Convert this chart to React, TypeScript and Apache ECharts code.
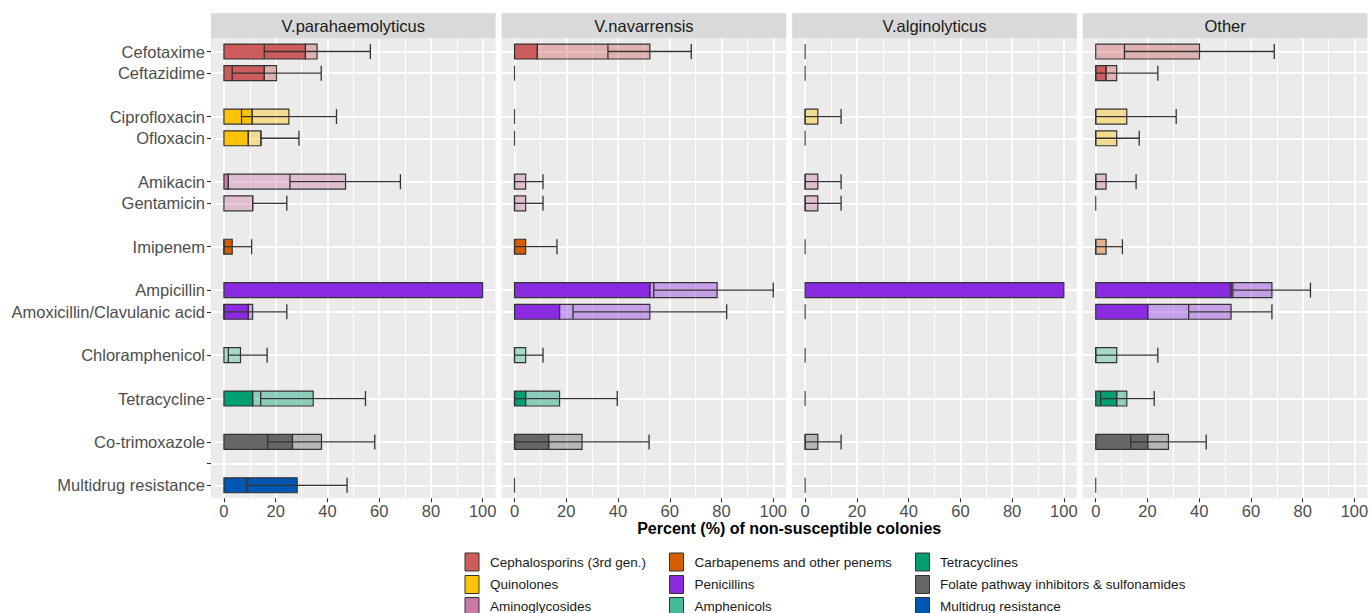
import React, { useEffect, useRef } from 'react';
import * as echarts from 'echarts';

const FONT = '"Liberation Sans", Arial, Helvetica, sans-serif';

const facets = ['V.parahaemolyticus', 'V.navarrensis', 'V.alginolyticus', 'Other'];

// y rows (blank strings are spacer rows)
const rowLabels = [
  'Cefotaxime', 'Ceftazidime', '', 'Ciprofloxacin', 'Ofloxacin', '', 'Amikacin', 'Gentamicin', '',
  'Imipenem', '', 'Ampicillin', 'Amoxicillin/Clavulanic acid', '', 'Chloramphenicol', '',
  'Tetracycline', '', 'Co-trimoxazole', ' ', 'Multidrug resistance',
];
const tickRows = [0, 1, 3, 4, 6, 7, 9, 11, 12, 14, 16, 18, 19, 20];

const drugs = [
  'Cefotaxime', 'Ceftazidime', 'Ciprofloxacin', 'Ofloxacin', 'Amikacin', 'Gentamicin', 'Imipenem',
  'Ampicillin', 'Amoxicillin/Clavulanic acid', 'Chloramphenicol', 'Tetracycline', 'Co-trimoxazole',
  'Multidrug resistance',
];
const drugClass = [0, 0, 1, 1, 2, 2, 3, 4, 4, 5, 6, 7, 8];

const classNames = [
  'Cephalosporins (3rd gen.)', 'Quinolones', 'Aminoglycosides',
  'Carbapenems and other penems', 'Penicillins', 'Amphenicols',
  'Tetracyclines', 'Folate pathway inhibitors & sulfonamides', 'Multidrug resistance',
];
const classColors = [
  '#CD5C5C', '#FFC20A', '#CC79A7',
  '#D55E00', '#8A2BE2', '#44BB99',
  '#009E73', '#666666', '#0056B3',
];

const xTicks = [0, 20, 40, 60, 80, 100];

// V.parahaemolyticus
const paraResistant = [31.5, 15.6, 10.9, 9.4, 1.7, 0, 3.2, 100, 9.4, 0, 11.1, 26.5, 28.3];
const paraIntermediate = [4.5, 4.7, 14.2, 4.9, 45.3, 11.1, 0, 0, 1.7, 6.4, 23.4, 11.2, 0];
const paraCiLow = [15.6, 3.2, 6.8, 14.3, 25.5, 11.1, 0, null, 0, 1.7, 14.2, 16.9, 8.8];
const paraCiHigh = [56.6, 37.6, 43.5, 29.0, 68.2, 24.3, 10.7, null, 24.3, 16.7, 54.7, 58.3, 47.6];

// V.navarrensis
const navResistant = [8.8, 0, 0, 0, 0, 0, 4.3, 52.3, 17.4, 0, 4.3, 13.2, 0];
const navIntermediate = [43.5, 0, 0, 0, 4.3, 4.3, 0, 26.0, 34.9, 4.3, 13.1, 12.9, 0];
const navCiLow = [36.1, 0, 0, 0, 0, 0, 0, 53.8, 22.6, 0, 0, 0, 0];
const navCiHigh = [68.3, 0, 0, 0, 11.0, 11.0, 16.4, 100, 82.0, 11.0, 39.7, 52.0, 0];

// V.alginolyticus
const algResistant = [0, 0, 0, 0, 0, 0, 0, 100, 0, 0, 0, 0, 0];
const algIntermediate = [0, 0, 4.9, 0, 4.9, 4.9, 0, 0, 0, 0, 0, 4.9, 0];
const algCiLow = [0, 0, 0, 0, 0, 0, 0, null, 0, 0, 0, 0, 0];
const algCiHigh = [0, 0, 13.9, 0, 13.9, 13.9, 0, null, 0, 0, 0, 13.9, 0];

// Other
const otherResistant = [0, 4.0, 0, 0, 0, 0, 0, 52.3, 20.1, 0, 8.1, 20.1, 0];
const otherIntermediate = [40.1, 4.1, 12.0, 8.1, 4.0, 0, 4.0, 15.8, 32.2, 8.1, 3.9, 8.0, 0];
const otherCiLow = [11.1, 0, 0, 0, 0, 0, 0, 53.0, 35.9, 0, 1.9, 13.5, 0];
const otherCiHigh = [69.0, 24.0, 31.1, 16.8, 15.6, 0, 10.3, 83.0, 68.1, 24.0, 22.6, 42.7, 0];

const facetValues = [
  [paraResistant, paraIntermediate, paraCiLow, paraCiHigh],
  [navResistant, navIntermediate, navCiLow, navCiHigh],
  [algResistant, algIntermediate, algCiLow, algCiHigh],
  [otherResistant, otherIntermediate, otherCiLow, otherCiHigh],
];

// layout
const PANEL_L0 = 211;
const PANEL_STEP = 290.6;
const PANEL_W = 284.6;
const PANEL_TOP = 38.5;
const PANEL_H = 459.8;
const STRIP_TOP = 13.3;
const STRIP_H = 25.2;
const LEGEND_KEY_X = [465, 669.5, 915.5];
const LEGEND_TEXT_X = [490, 694.5, 940];
const LEGEND_ROW_Y = [562, 584.5, 606.5];

const BORDER = '#333333';

function renderBar(_params: any, api: any) {
  const row = api.value(0);
  const r = api.value(1);
  const inter = api.value(2);
  const lo = api.value(3);
  const hi = api.value(4);
  const cls = api.value(5);
  const p0 = api.coord([0, row]);
  const x0 = p0[0];
  const yc = p0[1];
  const band = Math.abs(api.size([0, 1])[1]);
  const half = band * 0.345;
  const color = classColors[cls];
  const children: any[] = [];
  const total = r + inter;
  if (!(total > 0)) {
    children.push({
      type: 'line',
      shape: { x1: x0, y1: yc - half, x2: x0, y2: yc + half },
      style: { stroke: '#444444', lineWidth: 1.2 },
    });
  } else {
    const xr = api.coord([r, row])[0];
    const xt = api.coord([total, row])[0];
    if (r > 0) {
      children.push({
        type: 'rect',
        shape: { x: x0, y: yc - half, width: xr - x0, height: 2 * half },
        style: { fill: color, stroke: BORDER, lineWidth: 1.2 },
      });
    }
    if (inter > 0) {
      children.push({
        type: 'rect',
        shape: { x: xr, y: yc - half, width: xt - xr, height: 2 * half },
        style: { fill: echarts.color.modifyAlpha(color, 0.4), stroke: BORDER, lineWidth: 1.2 },
      });
    }
  }
  if (!isNaN(hi) && hi > 0 && !isNaN(lo)) {
    const xl = api.coord([lo, row])[0];
    const xh = api.coord([hi, row])[0];
    const st = { stroke: '#333333', lineWidth: 1.3 };
    children.push({ type: 'line', shape: { x1: xl, y1: yc, x2: xh, y2: yc }, style: st });
    children.push({ type: 'line', shape: { x1: xl, y1: yc - half, x2: xl, y2: yc + half }, style: st });
    children.push({ type: 'line', shape: { x1: xh, y1: yc - half, x2: xh, y2: yc + half }, style: st });
  }
  return { type: 'group', children };
}

function buildOption() {
  const grid: any[] = [];
  const xAxis: any[] = [];
  const yAxis: any[] = [];
  const series: any[] = [];
  const graphic: any[] = [];

  facets.forEach((name, i) => {
    const left = PANEL_L0 + PANEL_STEP * i;
    grid.push({
      left, top: PANEL_TOP, width: PANEL_W, height: PANEL_H,
      show: true, backgroundColor: '#EBEBEB', borderWidth: 0,
      containLabel: false, outerBoundsMode: 'none',
    });
    xAxis.push({
      type: 'value', gridIndex: i, min: -5, max: 105, position: 'bottom',
      axisLine: { show: false, onZero: false },
      axisTick: { show: true, customValues: xTicks, length: 4, lineStyle: { color: '#333333', width: 1.1 } },
      axisLabel: {
        customValues: xTicks, fontSize: 16.5, lineHeight: 16, color: '#4D4D4D', margin: 5, fontFamily: FONT,
        formatter: (v: number) => (xTicks.indexOf(v) >= 0 ? String(v) : ''),
      },
      splitLine: { show: true, lineStyle: { color: '#FFFFFF', width: 2 } },
      minorTick: { show: false, splitNumber: 2 },
      minorSplitLine: { show: true, lineStyle: { color: '#FFFFFF', width: 1 } },
    });
    yAxis.push({
      type: 'value', gridIndex: i, min: -0.6, max: 20.6, inverse: true, position: 'left',
      axisLine: { show: false, onZero: false },
      axisTick: { show: i === 0, customValues: tickRows, length: 4, lineStyle: { color: '#333333', width: 1.1 } },
      axisLabel: {
        show: i === 0, customValues: tickRows, fontSize: 16.5, color: '#4D4D4D', margin: 6, fontFamily: FONT,
        formatter: (v: number) => rowLabels[Math.round(v)] ?? '',
      },
      splitLine: { show: true, lineStyle: { color: '#FFFFFF', width: 2 } },
      minorSplitLine: { show: false },
    });
    const [res, inter, lo, hi] = facetValues[i];
    const data = drugs.map((d, k) => [
      rowLabels.indexOf(d), res[k], inter[k],
      lo[k] == null ? '-' : lo[k], hi[k] == null ? '-' : hi[k], drugClass[k],
    ]);
    series.push({
      type: 'custom', name, xAxisIndex: i, yAxisIndex: i,
      renderItem: renderBar, data, encode: { x: 1, y: 0 }, clip: false, z: 5,
    });
    // strip
    graphic.push({
      type: 'rect', x: left, y: STRIP_TOP,
      shape: { x: 0, y: 0, width: PANEL_W, height: STRIP_H },
      style: { fill: '#D9D9D9' }, silent: true,
    });
    graphic.push({
      type: 'text', x: left + PANEL_W / 2, y: STRIP_TOP + STRIP_H / 2 + 0.5,
      style: {
        text: name, fill: '#1A1A1A', fontSize: 16.5, fontFamily: FONT,
        align: 'center', verticalAlign: 'middle',
      },
      silent: true,
    });
  });

  graphic.push({
    type: 'text', x: PANEL_L0 + (PANEL_STEP * 3 + PANEL_W) / 2, y: 528.5,
    style: {
      text: 'Percent (%) of non-susceptible colonies', fill: '#000000', fontSize: 16,
      fontWeight: 'bold', fontFamily: FONT, align: 'center', verticalAlign: 'middle',
    },
    silent: true,
  });

  classNames.forEach((cn, k) => {
    const col = Math.floor(k / 3);
    const r = k % 3;
    graphic.push({
      type: 'rect', x: LEGEND_KEY_X[col], y: LEGEND_ROW_Y[r] - 9,
      shape: { x: 0, y: 0, width: 14, height: 18 },
      style: { fill: classColors[k], stroke: '#333333', lineWidth: 1 },
      silent: true,
    });
    graphic.push({
      type: 'text', x: LEGEND_TEXT_X[col], y: LEGEND_ROW_Y[r],
      style: {
        text: cn, fill: '#1A1A1A', fontSize: 13.5, fontFamily: FONT,
        align: 'left', verticalAlign: 'middle',
      },
      silent: true,
    });
  });

  return {
    animation: false,
    backgroundColor: '#FFFFFF',
    textStyle: { fontFamily: FONT },
    grid, xAxis, yAxis, series, graphic,
  };
}

export default function App() {
  const ref = useRef<HTMLDivElement>(null);
  useEffect(() => {
    if (!ref.current) return;
    const chart = echarts.init(ref.current, null, { renderer: 'svg' });
    chart.setOption(buildOption() as any);
    return () => chart.dispose();
  }, []);
  return (
    <div
      ref={ref}
      style={{ position: 'absolute', left: 0, top: 0, width: 1370, height: 613 }}
    />
  );
}
